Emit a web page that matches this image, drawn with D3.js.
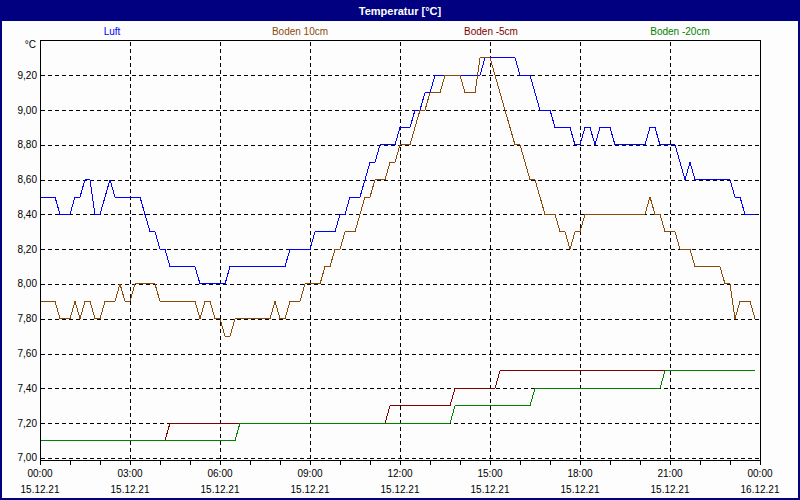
<!DOCTYPE html>
<html>
<head>
<meta charset="utf-8">
<script src="https://cdn.jsdelivr.net/npm/d3@7/dist/d3.min.js"></script>
<style>
  body { margin: 0; background: #fcfdfc; }
  svg text { font-family: "Liberation Sans", Arial, sans-serif; }
</style>
</head>
<body>
<div id="chart"></div>
<script>
// series names + colours
var seriesNames = ["Luft", "Boden 10cm", "Boden -5cm", "Boden -20cm"];
var seriesColors = ["#0000ff", "#8c4a08", "#800000", "#008000"];

// readings, only where the curve changes (10 min samples)
var luftTimes = ["00:00","00:30","00:40","01:00","01:10","01:20","01:30","01:40","01:50","02:00","02:20","02:30","03:20","03:30","03:40","03:50","04:00","04:10","04:20","05:10","05:20","06:10","06:20","08:10","08:20","09:00","09:10","09:50","10:00","10:10","10:20","10:40","10:50","11:00","11:10","11:20","11:50","12:00","12:20","12:30","12:40","12:50","13:00","13:10","14:40","14:50","15:50","16:00","16:20","16:30","16:40","17:00","17:10","17:40","17:50","18:00","18:10","18:20","18:30","18:40","19:00","19:10","20:10","20:20","20:30","20:40","21:10","21:20","21:30","21:40","21:50","23:00","23:10","23:20","23:30","23:50"];
var luftValues = [8.5,8.5,8.4,8.4,8.5,8.5,8.6,8.6,8.4,8.4,8.6,8.5,8.5,8.4,8.3,8.3,8.2,8.2,8.1,8.1,8.0,8.0,8.1,8.1,8.2,8.2,8.3,8.3,8.4,8.4,8.5,8.5,8.6,8.7,8.7,8.8,8.8,8.9,8.9,9.0,9.0,9.1,9.1,9.2,9.2,9.3,9.3,9.2,9.2,9.1,9.0,9.0,8.9,8.9,8.8,8.8,8.9,8.9,8.8,8.9,8.9,8.8,8.8,8.9,8.9,8.8,8.8,8.7,8.6,8.7,8.6,8.6,8.5,8.5,8.4,8.4];

var boden10Times = ["00:00","00:30","00:40","01:00","01:10","01:20","01:30","01:40","01:50","02:00","02:10","02:30","02:40","02:50","03:00","03:10","03:50","04:00","05:10","05:20","05:30","05:40","05:50","06:00","06:10","06:20","06:30","07:40","07:50","08:00","08:10","08:20","08:40","08:50","09:20","09:30","09:40","09:50","10:00","10:10","10:30","10:40","10:50","11:00","11:10","11:30","11:40","11:50","12:00","12:20","12:30","12:40","12:50","13:00","13:20","13:30","14:00","14:10","14:30","14:40","15:00","15:10","15:20","15:30","15:40","15:50","16:00","16:10","16:20","16:30","16:40","16:50","17:10","17:20","17:30","17:40","17:50","18:00","18:10","20:10","20:20","20:30","20:40","20:50","21:10","21:20","21:40","21:50","22:40","22:50","23:00","23:10","23:20","23:40","23:50"];
var boden10Values = [7.9,7.9,7.8,7.8,7.9,7.8,7.9,7.9,7.8,7.8,7.9,7.9,8.0,7.9,7.9,8.0,8.0,7.9,7.9,7.8,7.9,7.9,7.8,7.8,7.7,7.7,7.8,7.8,7.9,7.8,7.8,7.9,7.9,8.0,8.0,8.1,8.1,8.2,8.2,8.3,8.3,8.4,8.5,8.5,8.6,8.6,8.7,8.7,8.8,8.8,8.9,9.0,9.0,9.1,9.1,9.2,9.2,9.1,9.1,9.3,9.3,9.2,9.1,9.0,8.9,8.8,8.8,8.7,8.6,8.6,8.5,8.4,8.4,8.3,8.3,8.2,8.3,8.3,8.4,8.4,8.5,8.4,8.4,8.3,8.3,8.2,8.2,8.1,8.1,8.0,8.0,7.8,7.9,7.9,7.8];

var boden5Times = ["00:00","04:10","04:20","11:30","11:40","13:40","13:50","15:10","15:20","23:50"];
var boden5Values = [7.1,7.1,7.2,7.2,7.3,7.3,7.4,7.4,7.5,7.5];

var boden20Times = ["00:00","06:30","06:40","13:40","13:50","16:20","16:30","20:40","20:50","23:50"];
var boden20Values = [7.1,7.1,7.2,7.2,7.3,7.3,7.4,7.4,7.5,7.5];

// axis labels
var yTicks = [7.0,7.2,7.4,7.6,7.8,8.0,8.2,8.4,8.6,8.8,9.0,9.2];
var xTickHours = [0,3,6,9,12,15,18,21,24];
var xTimeLabels = ["00:00","03:00","06:00","09:00","12:00","15:00","18:00","21:00","00:00"];
var xDateLabels = ["15.12.21","15.12.21","15.12.21","15.12.21","15.12.21","15.12.21","15.12.21","15.12.21","16.12.21"];

function toMin(t) {
  var p = t.split(":");
  return (+p[0]) * 60 + (+p[1]);
}

var W = 800, H = 500;
// (window.top is taken, so plot* names)
var plotL = 40, plotR = 760, plotT = 40.5, plotB = 460.5;

var svg = d3.select("#chart").append("svg")
  .attr("width", W).attr("height", H);

svg.append("rect").attr("x", 0).attr("y", 0).attr("width", W).attr("height", H)
  .attr("fill", "#fcfdfc");

var x = d3.scaleLinear().domain([0, 1440]).range([plotL, plotR]);
var y = d3.scaleLinear().domain([6.985, 9.4]).range([plotB, plotT]);

// title bar
svg.append("rect").attr("x", 0).attr("y", 0).attr("width", W).attr("height", 21)
  .attr("fill", "#000080");
svg.append("text").attr("x", W / 2).attr("y", 14.5)
  .attr("text-anchor", "middle").attr("fill", "#fff")
  .style("font-size", "11px").style("font-weight", "bold")
  .text("Temperatur [°C]");

// legend row
var legendX = [112, 300, 491, 680];
seriesNames.forEach(function(n, i) {
  svg.append("text").attr("x", legendX[i]).attr("y", 34.5)
    .attr("text-anchor", "middle").attr("fill", seriesColors[i])
    .style("font-size", "10px").text(n);
});

// grid
var grid = svg.append("g").attr("shape-rendering", "crispEdges");
yTicks.forEach(function(v) {
  grid.append("line").attr("x1", plotL + 1).attr("x2", plotR)
    .attr("y1", Math.round(y(v)) + 0.5).attr("y2", Math.round(y(v)) + 0.5)
    .attr("stroke", "#000").attr("stroke-dasharray", "4,3");
});
xTickHours.slice(1, -1).forEach(function(h) {
  grid.append("line").attr("y1", plotT + 1).attr("y2", plotB)
    .attr("x1", Math.round(x(h * 60)) + 0.5).attr("x2", Math.round(x(h * 60)) + 0.5)
    .attr("stroke", "#000").attr("stroke-dasharray", "4,3");
});

// data lines - aliased like the original
var line = d3.line()
  .x(function(d) { return x(d[0]); })
  .y(function(d) { return y(d[1]); });

var allTimes = [luftTimes, boden10Times, boden5Times, boden20Times];
var allValues = [luftValues, boden10Values, boden5Values, boden20Values];
allTimes.forEach(function(ts, i) {
  var pts = ts.map(function(t, j) { return [toMin(t), allValues[i][j]]; });
  svg.append("path").datum(pts)
    .attr("d", line)
    .attr("fill", "none")
    .attr("stroke", seriesColors[i])
    .attr("stroke-width", 1)
    .attr("shape-rendering", "crispEdges");
});

// frame
var frame = svg.append("g").attr("shape-rendering", "crispEdges").attr("stroke", "#000");
frame.append("line").attr("x1", plotL + 0.5).attr("x2", plotL + 0.5).attr("y1", plotT).attr("y2", plotB + 1);
frame.append("line").attr("x1", plotR + 0.5).attr("x2", plotR + 0.5).attr("y1", plotT).attr("y2", plotB + 1);
frame.append("line").attr("x1", plotL).attr("x2", plotR + 1).attr("y1", plotT).attr("y2", plotT);
frame.append("line").attr("x1", plotL).attr("x2", plotR + 1).attr("y1", plotB).attr("y2", plotB);

// hourly ticks
d3.range(0, 25).forEach(function(h) {
  frame.append("line")
    .attr("x1", Math.round(x(h * 60)) + 0.5).attr("x2", Math.round(x(h * 60)) + 0.5)
    .attr("y1", plotB).attr("y2", plotB + 4);
});

// y labels
yTicks.forEach(function(v) {
  svg.append("text").attr("x", 37).attr("y", y(v) + 3.5)
    .attr("text-anchor", "end").style("font-size", "10px")
    .text(v.toFixed(2).replace(".", ","));
});
svg.append("text").attr("x", 36).attr("y", 48)
  .attr("text-anchor", "end").style("font-size", "10px").text("°C");

// x labels
xTickHours.forEach(function(h, i) {
  svg.append("text").attr("x", x(h * 60)).attr("y", 477)
    .attr("text-anchor", "middle").style("font-size", "10px").text(xTimeLabels[i]);
  svg.append("text").attr("x", x(h * 60)).attr("y", 492.5)
    .attr("text-anchor", "middle").style("font-size", "10px").text(xDateLabels[i]);
});

// window border
svg.append("rect").attr("x", 1).attr("y", 1).attr("width", W - 2).attr("height", H - 2)
  .attr("fill", "none").attr("stroke", "#000080").attr("stroke-width", 2);
</script>
</body>
</html>
